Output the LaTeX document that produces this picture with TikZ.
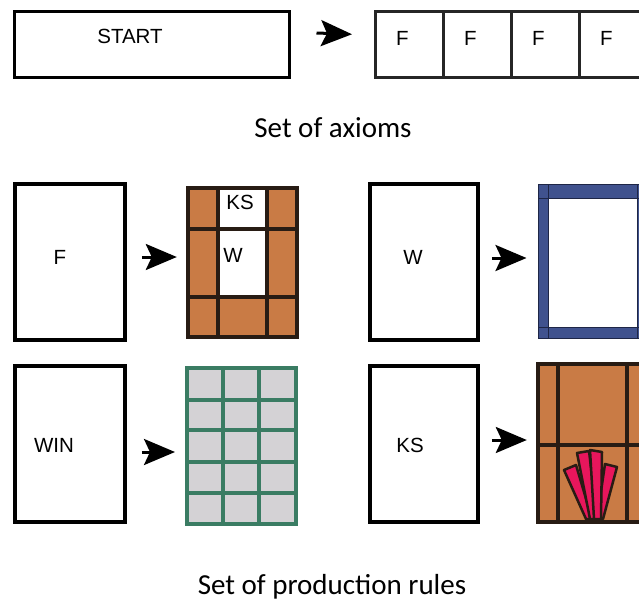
\documentclass[tikz,border=0pt]{standalone}
\usepackage{fontspec}
\setmainfont{Liberation Sans}
\newfontfamily\capfont{Carlito}
\usetikzlibrary{arrows.meta,positioning,calc}
\definecolor{BrickBrown}{RGB}{201,123,69}
\definecolor{LeadDark}{RGB}{40,28,20}
\definecolor{FrameBlue}{RGB}{64,82,142}
\definecolor{FrameLine}{RGB}{30,38,70}
\definecolor{GridGreen}{RGB}{58,124,99}
\definecolor{PaneGray}{RGB}{212,210,213}
\definecolor{FanRed}{RGB}{232,22,92}

\tikzset{
  symbol/.style={draw=black, line width=3.5pt, inner sep=0pt},
  cell/.style={draw=black!85, line width=2.5pt, inner sep=0pt,
               minimum width=68pt, minimum height=66pt, anchor=north west},
  lbl/.style={font=\fontsize{20.5}{24}\selectfont, inner sep=0pt},
  caption/.style={font=\capfont\fontsize{29}{34}\selectfont, inner sep=0pt, anchor=base},
  rulearrow/.style={line width=3pt, -{Stealth[length=31pt,width=26pt,inset=6pt]}},
  lead/.style={draw=LeadDark, line width=4.5pt},
  petal/.style={draw=LeadDark, line width=2.5pt, fill=FanRed, line join=round},
}

\begin{document}
\begin{tikzpicture}[x=1pt, y=-1pt]
\useasboundingbox (0,0) rectangle (639,600);
\clip (0,0) rectangle (639,600);

% axiom: START -> F F F F
\node[symbol, line width=3pt, minimum width=275pt, minimum height=66pt] (start) at (151.5,44) {};
\node[lbl] (startlbl) at (130,36) {START};
\foreach \i in {1,...,4} {
  \node[cell] (f\i) at ({374+68*(\i-1)},10) {};
  \node[lbl, anchor=west] (flbl\i) at ([xshift=22pt,yshift=6pt]f\i.west) {F};
}
\draw[rulearrow] ([xshift=26pt,yshift=11pt]start.east) -- ([xshift=-22pt,yshift=10pt]f1.west);
\node[caption] (axioms) at (333,137) {Set of axioms};

% rule F -> facade with KS and W
\node[symbol, minimum width=110pt, minimum height=156pt] (fbox) at (70,262) {};
\node[lbl] (fboxlbl) at (60,257) {F};
\node[fill=BrickBrown, inner sep=0pt, minimum width=109pt, minimum height=149pt] (fwin) at (242.5,262.5) {};
\fill[white] (218,188) rectangle (267,297);
\draw[lead] (fwin.north west) rectangle (fwin.south east)
  (218,188) -- (218,337) (267,188) -- (267,337)
  (188,229) -- (297,229) (188,297) -- (297,297);
\node[lbl] (kslbl) at (240,202) {KS};
\node[lbl] (wlbl) at (233,255) {W};
\draw[rulearrow] ([xshift=15pt,yshift=5pt]fbox.east) -- ([xshift=-11pt,yshift=5.5pt]fwin.west);

% rule W -> blue frame
\node[symbol, minimum width=108pt, minimum height=156pt] (wbox) at (424,262) {};
\node[lbl] (wboxlbl) at (413,257) {W};
\node[fill=FrameBlue, draw=FrameLine, line width=1pt, inner sep=0pt,
      minimum width=110pt, minimum height=154pt] (wframe) at (593,261) {};
\draw[FrameLine, line width=1pt, fill=white] (548,198) rectangle (637,327);
\draw[FrameLine, line width=1pt] (548,184) -- (548,338) (637,184) -- (637,338)
  (538,198) -- (648,198) (538,327) -- (648,327);
\draw[rulearrow] ([xshift=12pt,yshift=4pt]wbox.east) -- ([xshift=-11pt,yshift=3pt]wframe.west);

% rule WIN -> window grid
\node[symbol, minimum width=110pt, minimum height=156pt] (winbox) at (70,444) {};
\node[lbl] (winlbl) at (54,445) {WIN};
\node[fill=PaneGray, draw=GridGreen, line width=4pt, inner sep=0pt,
      minimum width=109pt, minimum height=156pt] (grid) at (241.5,446) {};
\draw[GridGreen, line width=4pt]
  (223,368) -- (223,524) (259,368) -- (259,524)
  \foreach \y in {400,430,462,493} { (187,\y) -- (296,\y) };
\draw[rulearrow] ([xshift=15pt,yshift=-8pt]winbox.east) -- ([xshift=-10pt,yshift=-6pt]grid.west);

% rule KS -> keystone fan
\node[symbol, minimum width=108pt, minimum height=156pt] (ksbox) at (424,444) {};
\node[lbl] (ksboxlbl) at (410,445) {KS};
\node[fill=BrickBrown, inner sep=0pt, minimum width=110pt, minimum height=158pt] (kswin) at (593,443) {};
\draw[lead] (kswin.north west) rectangle (kswin.south east)
  (558,364) -- (558,522) (627,364) -- (627,522) (538,445) -- (648,445);
\draw[petal] (564,470) -- (576,465) -- (592,519) -- (586,519) -- cycle;
\draw[petal] (605,464) -- (617,467) -- (603,519) -- (597,519) -- cycle;
\draw[petal] (577,453) -- (589,451) -- (597,519) -- (590,519) -- cycle;
\draw[petal] (590,450) -- (602,452) -- (601,519) -- (594,519) -- cycle;
\draw[rulearrow] ([xshift=12pt,yshift=4pt]ksbox.east) -- ([xshift=-11pt,yshift=3pt]kswin.west);
\node[caption] (rules) at (332,594) {Set of production rules};
\end{tikzpicture}
\end{document}
